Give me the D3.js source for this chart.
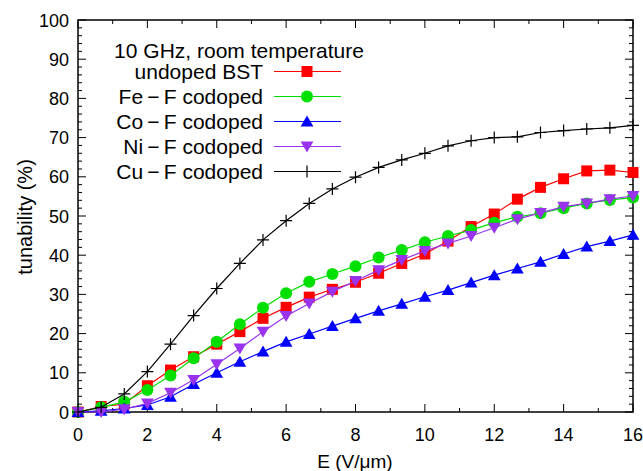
<!DOCTYPE html>
<html>
<head>
<meta charset="utf-8">
<script src="https://cdn.jsdelivr.net/npm/d3@7"></script>
<style>
  html, body { margin: 0; padding: 0; background: #fff; }
  svg { display: block; font-family: "Liberation Sans", Arial, sans-serif; }
</style>
</head>
<body>
<div id="chart"></div>
<script>
// field values, E in V/um (25 points, step 2/3)
const fieldValues = d3.range(25).map(i => i * 2 / 3);

const undopedBST = [0, 1.4, 2.0, 6.7, 10.7, 14.1, 17.3, 20.5, 23.9, 26.7, 29.3, 31.3, 33.1,
  35.4, 37.9, 40.3, 43.6, 47.3, 50.5, 54.3, 57.3, 59.5, 61.5, 61.7, 61.1];
const feF = [0, 1.2, 2.6, 5.6, 9.3, 13.7, 17.9, 22.4, 26.6, 30.3, 33.2, 35.2, 37.2,
  39.4, 41.3, 43.3, 44.9, 46.4, 48.3, 49.8, 50.7, 52.0, 53.2, 54.1, 54.7];
const coF = [0, 0.3, 0.9, 1.8, 3.9, 7.1, 10.0, 12.8, 15.4, 17.9, 19.9, 21.9, 23.9,
  25.8, 27.6, 29.4, 31.1, 33.0, 34.9, 36.6, 38.3, 40.3, 42.2, 43.6, 45.2];
const niF = [0, 0, 0.7, 2.2, 4.9, 8.2, 12.2, 16.2, 20.5, 24.5, 27.7, 30.7, 33.4,
  36.2, 38.8, 41.1, 43.0, 44.9, 47.0, 49.2, 50.8, 52.4, 53.2, 54.3, 55.1];
const cuF = [0, 1.2, 4.6, 10.3, 17.3, 24.6, 31.5, 37.9, 43.9, 48.8, 53.2, 56.9, 59.9,
  62.4, 64.3, 66.0, 67.9, 69.2, 70.0, 70.2, 71.3, 71.8, 72.2, 72.5, 73.1];

const xTicks = [0, 2, 4, 6, 8, 10, 12, 14, 16];
const yTicks = [0, 10, 20, 30, 40, 50, 60, 70, 80, 90, 100];

const legendTitle = "10 GHz, room temperature";
const series = [
  { name: "undoped BST", values: undopedBST, color: "#ff0000", symbol: "square" },
  { name: "Fe\u2009\u2212\u2009F codoped", values: feF, color: "#00e000", symbol: "circle" },
  { name: "Co\u2009\u2212\u2009F codoped", values: coF, color: "#0000ff", symbol: "tri" },
  { name: "Ni\u2009\u2212\u2009F codoped", values: niF, color: "#9933ee", symbol: "invtri" },
  { name: "Cu\u2009\u2212\u2009F codoped", values: cuF, color: "#000000", symbol: "plus" }
];

const W = 643, H = 471;
const margin = { left: 78, right: 10, top: 20, bottom: 59 };

const svg = d3.select("#chart").append("svg")
  .attr("width", W).attr("height", H);

const x = d3.scaleLinear().domain([0, 16]).range([margin.left, W - margin.right]);
const y = d3.scaleLinear().domain([0, 100]).range([H - margin.bottom, margin.top]);

const x0 = x.range()[0], x1 = x.range()[1];
const y0 = y.range()[0], y1 = y.range()[1];

// ticks (inward, mirrored on all sides)
const tickG = svg.append("g").attr("stroke", "#000").attr("stroke-width", 1);
const xMinor = d3.range(0, 17, 1);
const yMinor = d3.range(0, 101, 2);
xMinor.forEach(v => {
  const len = xTicks.includes(v) ? 8 : 4;
  tickG.append("line").attr("x1", x(v)).attr("x2", x(v)).attr("y1", y0).attr("y2", y0 - len);
  tickG.append("line").attr("x1", x(v)).attr("x2", x(v)).attr("y1", y1).attr("y2", y1 + len);
});
yMinor.forEach(v => {
  const len = yTicks.includes(v) ? 8 : 4;
  tickG.append("line").attr("x1", x0).attr("x2", x0 + len).attr("y1", y(v)).attr("y2", y(v));
  tickG.append("line").attr("x1", x1).attr("x2", x1 - len).attr("y1", y(v)).attr("y2", y(v));
});

// frame
svg.append("rect")
  .attr("x", x0).attr("y", y1)
  .attr("width", x1 - x0).attr("height", y0 - y1)
  .attr("fill", "none").attr("stroke", "#000").attr("stroke-width", 1.5);

// tick labels
svg.append("g").selectAll("text").data(xTicks).join("text")
  .attr("x", d => x(d)).attr("y", y0 + 29)
  .attr("text-anchor", "middle").attr("font-size", 18)
  .text(d => d);
svg.append("g").selectAll("text").data(yTicks).join("text")
  .attr("x", x0 - 9).attr("y", d => y(d) + 6.5)
  .attr("text-anchor", "end").attr("font-size", 18)
  .text(d => d);

// axis titles
svg.append("text")
  .attr("x", 355).attr("y", H - 3)
  .attr("text-anchor", "middle").attr("font-size", 19)
  .text("E (V/\u03bcm)");
svg.append("text")
  .attr("transform", `translate(32,217) rotate(-90)`)
  .attr("text-anchor", "middle").attr("font-size", 20)
  .text("tunability (%)");

// markers
const symbolSize = 11;
function drawMarker(g, kind, color, cx, cy) {
  const s = symbolSize;
  if (kind === "square") {
    g.append("rect").attr("x", cx - s / 2).attr("y", cy - s / 2)
      .attr("width", s).attr("height", s).attr("fill", color);
  } else if (kind === "circle") {
    g.append("circle").attr("cx", cx).attr("cy", cy).attr("r", s / 2 + 0.5).attr("fill", color);
  } else if (kind === "tri") {
    g.append("path").attr("d", `M${cx},${cy - s * 0.55}L${cx + s * 0.58},${cy + s * 0.45}L${cx - s * 0.58},${cy + s * 0.45}Z`)
      .attr("fill", color);
  } else if (kind === "invtri") {
    g.append("path").attr("d", `M${cx},${cy + s * 0.55}L${cx + s * 0.58},${cy - s * 0.45}L${cx - s * 0.58},${cy - s * 0.45}Z`)
      .attr("fill", color);
  } else if (kind === "plus") {
    g.append("path").attr("d", `M${cx - 6},${cy}H${cx + 6}M${cx},${cy - 6}V${cy + 6}`)
      .attr("stroke", color).attr("stroke-width", 1.2);
  }
}

const line = d3.line()
  .x((d, i) => x(fieldValues[i]))
  .y(d => y(d));

series.forEach(s => {
  const g = svg.append("g");
  g.append("path")
    .attr("d", line(s.values))
    .attr("fill", "none").attr("stroke", s.color).attr("stroke-width", 1.2);
  s.values.forEach((v, i) => drawMarker(g, s.symbol, s.color, x(fieldValues[i]), y(v)));
});

// legend
const legend = svg.append("g");
legend.append("text")
  .attr("x", 239).attr("y", 57.5)
  .attr("text-anchor", "middle").attr("font-size", 21)
  .text(legendTitle);
series.forEach((s, i) => {
  const ly = 71.5 + i * 25;
  legend.append("text")
    .attr("x", 263).attr("y", ly + 7.5)
    .attr("text-anchor", "end").attr("font-size", 21)
    .text(s.name);
  legend.append("line")
    .attr("x1", 274).attr("x2", 341).attr("y1", ly).attr("y2", ly)
    .attr("stroke", s.color).attr("stroke-width", 1.2);
  drawMarker(legend, s.symbol, s.color, 307, ly);
});
</script>
</body>
</html>
